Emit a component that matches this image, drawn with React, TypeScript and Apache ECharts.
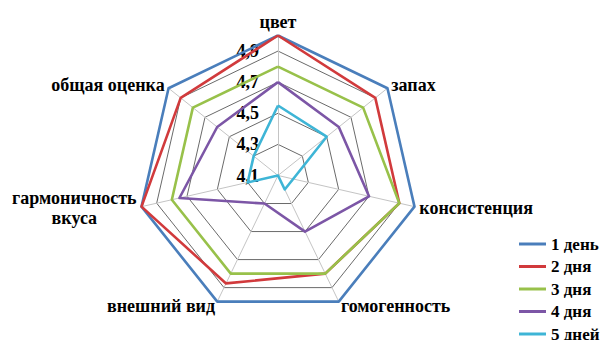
import React, { useEffect, useRef } from 'react';
import * as echarts from 'echarts';

// Indicators in clockwise order starting at the top
const indicators = ['цвет', 'запах', 'консистенция', 'гомогенность', 'внешний вид', 'гармоничность вкуса', 'общая оценка'];
const seriesNames = ['1 день', '2 дня', '3 дня', '4 дня', '5 дней'];
const day1 = [5.0, 5.0, 5.0, 5.0, 5.0, 5.0, 5.0];
const day2 = [5.0, 4.9, 4.9, 4.8, 4.87, 5.0, 4.9];
const day3 = [4.8, 4.8, 4.9, 4.8, 4.8, 4.8, 4.8];
const day4 = [4.7, 4.6, 4.7, 4.5, 4.3, 4.75, 4.6];
const day5 = [4.55, 4.5, 4.2, 4.2, 4.1, 4.3, 4.3];
const seriesValues = [day1, day2, day3, day4, day5];
const axisMin = 4.1;
const axisMax = 5.0;
const gridMax = 4.9;
const gridStep = 0.2;

const colors = ['#4a7ebb', '#d13a3c', '#98c14a', '#7c56a6', '#3eb5d6'];
const FONT = "'Liberation Serif', 'Times New Roman', serif";

// ECharts radar runs counter-clockwise; reorder clockwise arrays
const ccw = <T,>(arr: T[]): T[] => arr.map((_, i) => arr[(arr.length - i) % arr.length]);

export default function App() {
  const ref = useRef<HTMLDivElement>(null);
  useEffect(() => {
    if (!ref.current) return;
    const chart = echarts.init(ref.current, undefined, { renderer: 'svg' });
    const center = [278, 175.5];
    const R = 140;
    const names = ccw(indicators);
    const option: any = {
      animation: false,
      textStyle: { fontFamily: FONT },
      legend: {
        orient: 'vertical',
        left: 519,
        top: 235.5,
        height: 140,
        padding: 0,
        itemWidth: 27,
        itemHeight: 3,
        itemGap: 5.5,
        icon: 'rect',
        data: seriesNames,
        textStyle: { fontFamily: FONT, fontSize: 17, fontWeight: 'bold', color: '#000', lineHeight: 17 },
      },
      radar: [
        {
          center,
          radius: (R * (gridMax - axisMin)) / (axisMax - axisMin),
          startAngle: 90,
          shape: 'polygon',
          splitNumber: Math.round((gridMax - axisMin) / gridStep),
          indicator: names.map((n, i) => ({
            name: n,
            min: axisMin,
            max: gridMax,
            ...(i === 0 ? { axisLabel: { show: true } } : {}),
          })),
          axisName: { show: false },
          axisLine: { show: false },
          axisTick: { show: false },
          splitArea: { show: false },
          splitLine: { lineStyle: { color: '#6a6a6a', width: 1 } },
          axisLabel: {
            show: false,
            fontFamily: FONT,
            fontSize: 18,
            fontWeight: 'bold',
            color: '#000',
            margin: 19,
            formatter: (v: number) => Number(v).toFixed(1).replace('.', ','),
          },
        },
        {
          center,
          radius: R,
          startAngle: 90,
          shape: 'polygon',
          splitNumber: 1,
          indicator: names.map((n) => ({ name: n, min: axisMin, max: axisMax })),
          nameGap: 5,
          axisName: {
            color: '#000',
            fontFamily: FONT,
            fontSize: 18,
            fontWeight: 'bold',
            formatter: (name: string) =>
              name === 'гармоничность вкуса' ? '{c|гармоничность}\n{c|вкуса}' : name,
            rich: {
              c: { align: 'center', fontFamily: FONT, fontSize: 18, fontWeight: 'bold', color: '#000', lineHeight: 20 },
            },
          },
          axisLine: { lineStyle: { color: '#c4c4c4', width: 1 } },
          axisTick: { show: false },
          axisLabel: { show: false },
          splitArea: { show: false },
          splitLine: { lineStyle: { color: '#6a6a6a', width: 1 } },
        },
      ],
      series: seriesValues.map((vals, i) => ({
        type: 'radar',
        name: seriesNames[i],
        radarIndex: 1,
        symbol: 'none',
        z: 2 + i,
        lineStyle: { color: colors[i], width: 2.6 },
        itemStyle: { color: colors[i] },
        data: [{ name: seriesNames[i], value: ccw(vals) }],
      })),
    };
    chart.setOption(option);
    return () => chart.dispose();
  }, []);
  return <div ref={ref} style={{ position: 'absolute', left: 0, top: 0, width: 604, height: 340 }} />;
}
